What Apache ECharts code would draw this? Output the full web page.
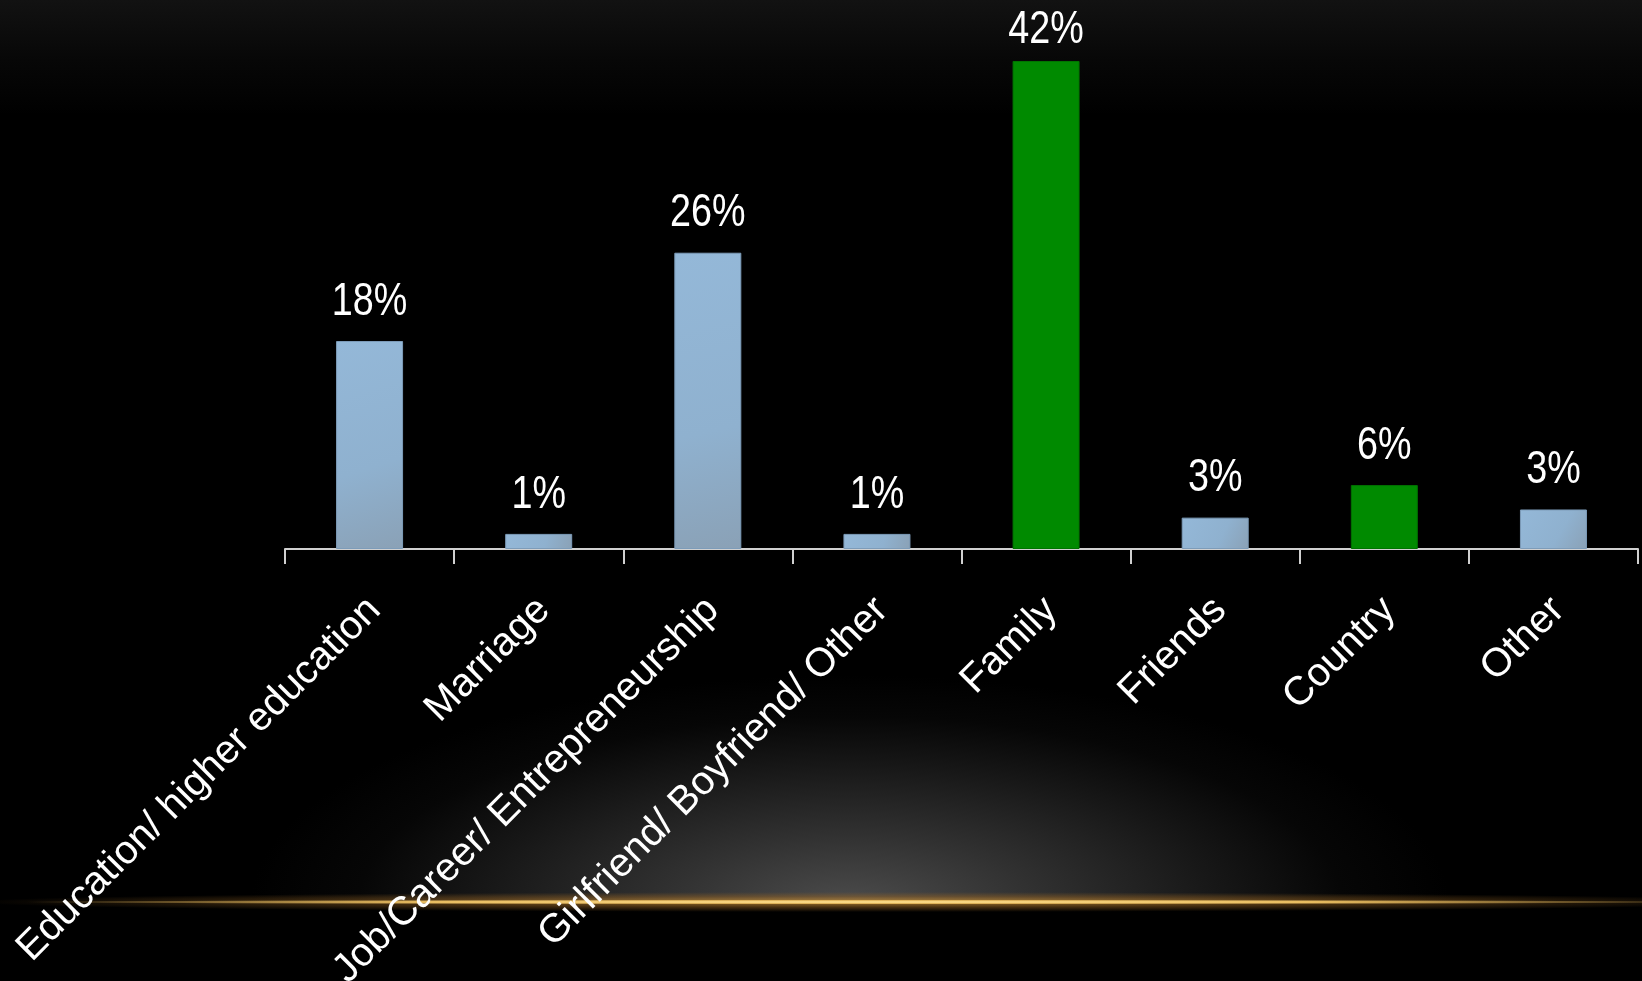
<!DOCTYPE html>
<html>
<head>
<meta charset="utf-8">
<script src="https://cdn.jsdelivr.net/npm/echarts@6/dist/echarts.min.js"></script>
<style>
  html, body { margin: 0; padding: 0; background: #000; }
  #wrap { position: relative; width: 1642px; height: 981px; overflow: hidden;
    background: linear-gradient(to bottom, #121212 0px, #070707 60px, #000 115px, #000 100%); }
  #glow { position: absolute; left: 0; top: 0; width: 1642px; height: 902px;
    background: radial-gradient(ellipse 600px 230px at 850px 905px, rgba(76,76,76,1) 0%, rgba(52,52,52,0.95) 30%, rgba(30,30,30,0.8) 60%, rgba(12,12,12,0.5) 82%, rgba(0,0,0,0) 100%); }
  #gold { position: absolute; left: 0; top: 880px; width: 1642px; height: 44px;
    background:
      radial-gradient(ellipse 860px 2.5px at 870px 22px, rgba(255,228,150,1) 0%, rgba(240,195,100,0.95) 55%, rgba(200,140,40,0) 100%),
      radial-gradient(ellipse 900px 10px at 870px 22px, rgba(200,145,55,0.8) 0%, rgba(150,100,35,0.45) 55%, rgba(100,70,20,0) 100%); }
  #chart { position: absolute; left: 0; top: 0; width: 1642px; height: 981px; }
</style>
</head>
<body>
<div id="wrap">
  <div id="glow"></div>
  <div id="gold"></div>
  <div id="chart"></div>
</div>
<script>
// ---- Data ----
const categories = [
  'Education/ higher education',
  'Marriage',
  'Job/Career/ Entrepreneurship',
  'Girlfriend/ Boyfriend/ Other',
  'Family',
  'Friends',
  'Country',
  'Other'
];
const values = [17.9, 1.3, 25.5, 1.3, 42, 2.7, 5.5, 3.4];
const highlighted = ['Family', 'Country'];

// ---- Styles ----
const blueStyle = {
  color: new echarts.graphic.LinearGradient(0, 0, 1, 1, [
    { offset: 0, color: '#94b8d8' },
    { offset: 0.6, color: '#8fb1cf' },
    { offset: 1, color: '#8aa1b6' }
  ]),
  borderColor: '#7d9cb9',
  borderWidth: 1
};
const greenStyle = { color: '#008a00', borderColor: '#007400', borderWidth: 1 };
const maxVal = Math.max.apply(null, values);

const barData = values.map(function (v, i) {
  return {
    value: v,
    itemStyle: highlighted.indexOf(categories[i]) >= 0 ? greenStyle : blueStyle
  };
});
const labelData = values.map(function (v, i) { return [i, v]; });

const chart = echarts.init(document.getElementById('chart'), null, { renderer: 'canvas' });
chart.setOption({
  backgroundColor: 'transparent',
  animation: false,
  grid: { left: 285, right: 4, top: 61, bottom: 432, containLabel: false, outerBoundsMode: 'none' },
  xAxis: {
    type: 'category',
    data: categories,
    boundaryGap: true,
    axisLine: { show: true, lineStyle: { color: '#d0d0d0', width: 2 } },
    axisTick: { show: true, alignWithLabel: false, length: 15, lineStyle: { color: '#d0d0d0', width: 2 } },
    axisLabel: {
      interval: 0,
      rotate: 45,
      margin: 50,
      color: '#ffffff',
      fontSize: 40,
      fontFamily: "'Liberation Sans', Arial, sans-serif",
      hideOverlap: false,
      formatter: function (v) { return '{s| }\n{t|' + v + '}'; },
      rich: {
        s: { fontSize: 2, lineHeight: 14 },
        t: { fontSize: 40, lineHeight: 40, color: '#ffffff', fontFamily: "'Liberation Sans', Arial, sans-serif" }
      }
    },
    splitLine: { show: false }
  },
  yAxis: {
    type: 'value',
    min: 0,
    max: 42,
    show: false,
    splitLine: { show: false }
  },
  series: [{
    type: 'bar',
    data: barData,
    barWidth: 67,
    z: 2
  }, {
    type: 'custom',
    data: labelData,
    encode: { x: 0, y: 1 },
    z: 5,
    silent: true,
    renderItem: function (params, api) {
      const v = api.value(1);
      const pt = api.coord([api.value(0), v]);
      const gap = v === maxVal ? 8 : 16;
      return {
        type: 'text',
        x: pt[0],
        y: pt[1] - gap,
        scaleX: 0.82,
        style: {
          text: Math.round(v) + '%',
          fill: '#ffffff',
          fontSize: 46,
          lineHeight: 46,
          fontFamily: "'Liberation Sans', Arial, sans-serif",
          align: 'center',
          verticalAlign: 'bottom'
        }
      };
    }
  }]
});
</script>
</body>
</html>
